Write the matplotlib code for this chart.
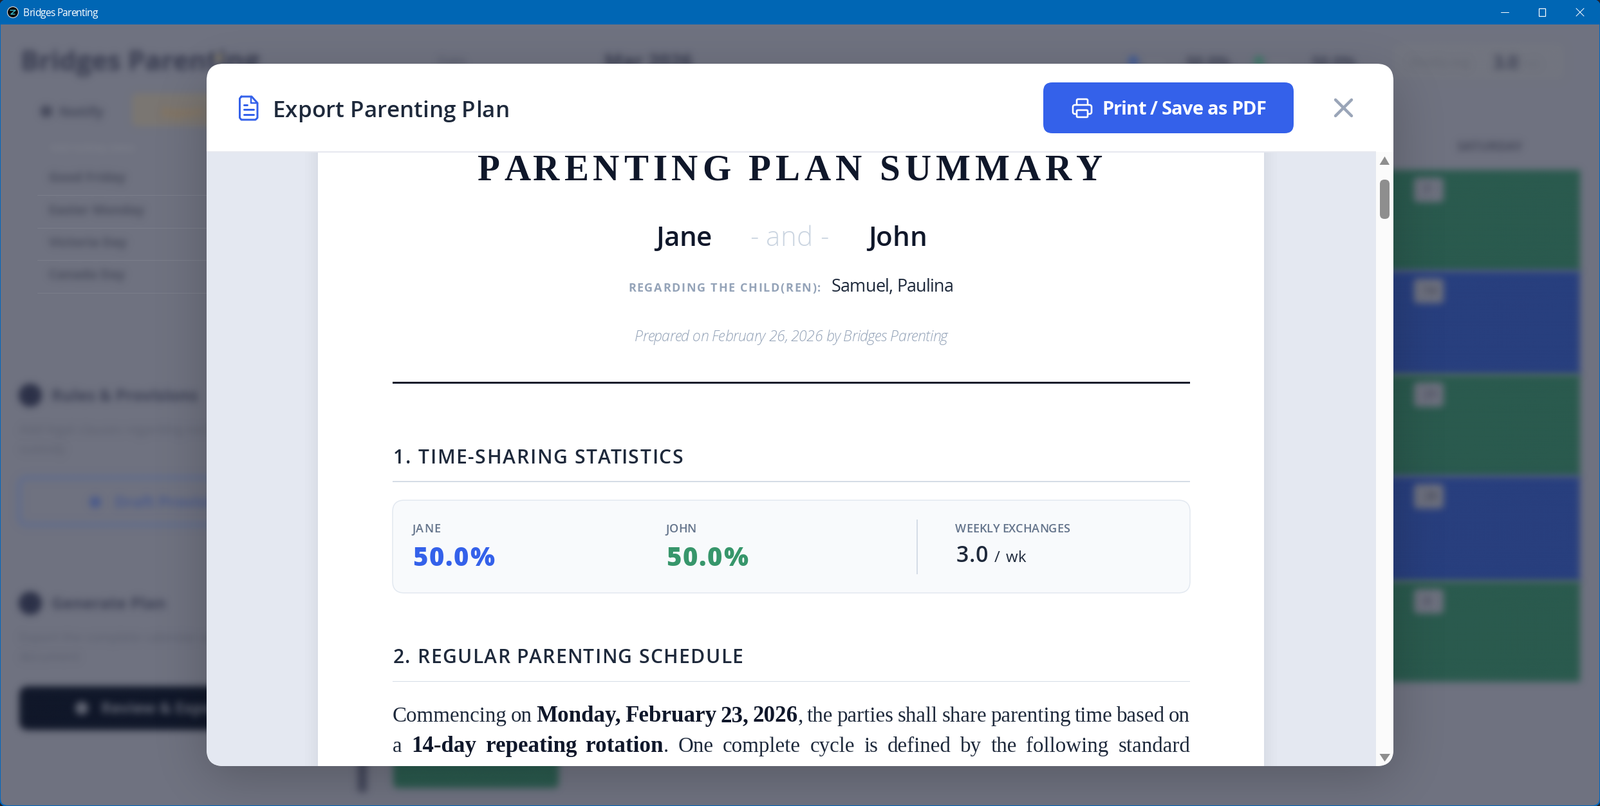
import numpy as np
import matplotlib
matplotlib.use("Agg")
import matplotlib.pyplot as plt
import matplotlib.text as mtext
from matplotlib.artist import allow_rasterization
from matplotlib.patches import Circle, FancyBboxPatch, Polygon, Rectangle
from matplotlib.transforms import IdentityTransform

# texts of the app behind the dialog (blurred)
APP_TITLE = "Bridges Parenting"
APP_TAB = "Notify"
APP_LIST_HEAD = "Add holiday dates"
HOLIDAYS = ["Good Friday", "Easter Monday", "Victoria Day", "Canada Day"]
RULES_HEAD = "Rules & Provisions"
RULES_DESC = ["Add legal clauses regarding exchanges and", "custody"]
RULES_BUTTON = "Draft Provisions"
PLAN_HEAD = "Generate Plan"
PLAN_DESC = ["Export the complete calendar and schedule", "document"]
PLAN_BUTTON = "Review & Export"
MONTH = "Mar 2026"
VIEW = "Date"
TOP_PCT = ["50.0%", "50.0%"]
DAY_NAME = "SATURDAY"
DAY_BADGES = ["7", "14", "21", "28", "4"]

# texts of the dialog
DIALOG_TITLE = "Export Parenting Plan"
PRINT_LABEL = "Print / Save as PDF"
DOC_TITLE = "PARENTING PLAN SUMMARY"
PARENTS = ["Jane", "John"]
CHILD_LABEL = "REGARDING THE CHILD(REN):"
CHILDREN = "Samuel, Paulina"
PREPARED = "Prepared on February 26, 2026 by Bridges Parenting"
SECTION_1 = "1. TIME-SHARING STATISTICS"
SECTION_2 = "2. REGULAR PARENTING SCHEDULE"
STAT_LABELS = ["JANE", "JOHN", "WEEKLY EXCHANGES"]
STAT_VALUES = ["50.0%", "50.0%", "3.0"]
LINE_1 = [("Commencing on", False), ("Monday, February 23, 2026", True),
          (", the parties shall share parenting time based on", False)]
LINE_2 = [("a", False), ("14-day repeating rotation", True),
          (". One complete cycle is defined by the following standard", False)]

BLUE = "#3461ea"
GREEN = "#37966b"
NAVY = "#0f172a"
SLATE = "#1e293b"
BACKDROP = "#6f7280"
CELL_GREEN = "#2a5a4e"
CELL_BLUE = "#283f7e"

SANS = "Open Sans"
SERIF = "Liberation Serif"

fig = plt.figure(figsize=(24.86, 12.52), dpi=100, facecolor="#20242c")
ax = fig.add_axes([0, 0, 1, 1])
ax.set_xlim(0, 2486)
ax.set_ylim(1252, 0)
ax.axis("off")


def fs(px):
    return px * 0.72


class SpacedText(mtext.Text):
    # one string drawn with letter spacing so it fills a given pixel width
    def __init__(self, *args, target=None, **kwargs):
        super().__init__(*args, **kwargs)
        self.target = target

    @allow_rasterization
    def draw(self, renderer):
        s = self.get_text()
        prop = self.get_fontproperties()
        x, y = self.get_transform().transform(self.get_position())
        full = renderer.get_text_width_height_descent(s, prop, False)[0]
        extra = (self.target - full) / (len(s) - 1)
        for i, ch in enumerate(s):
            w = renderer.get_text_width_height_descent(s[:i], prop, False)[0] if i else 0
            t = mtext.Text(x + w + i * extra, y, ch, fontproperties=prop, color=self.get_color(),
                           transform=IdentityTransform(), ha="left", va="baseline")
            t.set_figure(self.get_figure())
            t.draw(renderer)


def put(x, y, s, px, color, width=None, weight="normal", family=SANS, style="normal"):
    kw = dict(fontsize=fs(px), color=color, fontweight=weight, family=family, fontstyle=style,
              ha="left", va="baseline", transform=ax.transData)
    if width is None:
        return ax.text(x, y, s, **kw)
    t = SpacedText(x, y, s, target=width, **kw)
    ax.add_artist(t)
    return t


def box(x0, y0, x1, y1, r=0, **kw):
    kw.setdefault("linewidth", 0)
    if r == 0:
        p = Rectangle((x0, y0), x1 - x0, y1 - y0, **kw)
    else:
        p = FancyBboxPatch((x0 + r, y0 + r), x1 - x0 - 2 * r, y1 - y0 - 2 * r,
                           boxstyle=f"round,pad={r},rounding_size={r}", **kw)
    ax.add_patch(p)
    return p


def line(xs, ys, color, px, **kw):
    ax.plot(xs, ys, color=color, lw=fs(px), solid_capstyle="round", solid_joinstyle="round", **kw)


def blur(sigma):
    def f(img, dpi):
        pad = int(sigma * 4)
        img = np.pad(img, ((pad, pad), (pad, pad), (0, 0)))
        alpha = img[..., 3:]
        fy = np.fft.fftfreq(img.shape[0])[:, None]
        fx = np.fft.rfftfreq(img.shape[1])[None, :]
        gain = np.exp(-2 * (np.pi * sigma) ** 2 * (fx ** 2 + fy ** 2))
        out = np.empty_like(img)
        layers = np.concatenate([img[..., :3] * alpha, alpha], axis=2)
        for c in range(4):
            out[..., c] = np.fft.irfft2(np.fft.rfft2(layers[..., c]) * gain, s=img.shape[:2])
        a = np.clip(out[..., 3:], 1e-4, 1)
        out[..., :3] = np.clip(out[..., :3] / a, 0, 1)
        out[..., 3] = np.clip(out[..., 3], 0, 1)
        return out, -pad, -pad
    return f


soft = blur(5.5)


def bg_text(x, y, s, px, color, weight="normal"):
    put(x, y, s, px, color, weight=weight).set_agg_filter(soft)


def bg_box(*args, **kw):
    box(*args, **kw).set_agg_filter(soft)


# window
window = box(0, 0, 2486, 1252, r=12, facecolor=BACKDROP, edgecolor="#0067c0", linewidth=1.5)
bar = box(0, 0, 2486, 38, facecolor="#0066b4")
bar.set_clip_path(window)
ax.add_patch(Circle((20, 19), 8.5, facecolor="#060606", edgecolor="#d8d8d8", linewidth=0.8))
line([16, 24, 17, 23], [16, 16, 22, 22], "#38b6c8", 1.5)
put(36, 25, APP_TITLE, 15.5, "white", width=116)
line([2332, 2344], [18.5, 18.5], "white", 1)
ax.add_patch(Rectangle((2391, 13), 10, 12, fill=False, edgecolor="white", linewidth=fs(1.2)))
line([2449, 2461], [13, 25], "white", 1)
line([2449, 2461], [25, 13], "white", 1)

# app behind the dialog
bg_text(32, 109, APP_TITLE, 42, "#363a4e", weight="bold")
ax.add_patch(Circle((340, 90), 5, facecolor="#8d8468", linewidth=0)).set_agg_filter(soft)
bg_text(680, 102, VIEW, 20, "#4e5263")
bg_text(939, 106, MONTH, 30, "#363a4e", weight="bold")
bg_box(64, 165, 80, 181, r=3, facecolor="#424658")
bg_text(92, 181, APP_TAB, 22, "#424658", weight="bold")
bg_box(205, 145, 340, 196, r=8, facecolor="#7c7873")
bg_text(250, 181, "Export", 20, "#8b7458", weight="bold")
bg_text(78, 235, APP_LIST_HEAD, 16, "#82858f")
for i, name in enumerate(HOLIDAYS):
    bg_text(76, 282 + i * 50.5, name, 20, "#454959", weight="bold")
    line([58, 330], [303 + i * 50.5] * 2, "#7a7d89", 1)

for cy, head, desc in ((614, RULES_HEAD, RULES_DESC), (937, PLAN_HEAD, PLAN_DESC)):
    ax.add_patch(Circle((47, cy), 18, facecolor="#2c3148", linewidth=0)).set_agg_filter(soft)
    bg_text(80, cy + 9, head, 25, "#3c4054", weight="bold")
    bg_text(30, cy + 60, desc[0], 20, "#5b5f6e")
    bg_text(30, cy + 90, desc[1], 20, "#5b5f6e")
bg_box(30, 742, 360, 815, r=12, facecolor="none", edgecolor="#5f6c8f", linewidth=fs(6))
ax.add_patch(Circle((148, 780), 9, facecolor="#4a5a8c", linewidth=0)).set_agg_filter(soft)
bg_text(178, 788, RULES_BUTTON, 24, "#4a5a8c", weight="bold")
bg_box(30, 1066, 360, 1134, r=14, facecolor="#101729")
ax.add_patch(Circle((127, 1100), 10, facecolor="#666a78", linewidth=0)).set_agg_filter(soft)
bg_text(157, 1108, PLAN_BUTTON, 24, "#666a78", weight="bold")

for x, s, dot in ((1761, TOP_PCT[0], "#3f5a98"), (1956, TOP_PCT[1], "#3d7a68")):
    ax.add_patch(Circle((x, 95), 8, facecolor=dot, linewidth=0)).set_agg_filter(soft)
    bg_text(x + 17, 102, "Jane", 16, "#7d818c")
    bg_text(x + 82, 105, s, 24, "#3c4054", weight="bold")
bg_box(2165, 68, 2430, 122, r=8, facecolor="#73767f")
bg_text(2190, 103, "Weekly avg", 18, "#62656f")
bg_text(2320, 107, "3.0", 28, "#3c4054", weight="bold")
bg_text(2358, 105, "/ wk", 18, "#676a76")
bg_text(2263, 234, DAY_NAME, 20, "#444758", weight="bold")

# calendar cells, the dialog covers everything left of the last column
cell_edges = [264, 421, 582, 740, 903, 1059]
for i, label in enumerate(DAY_BADGES):
    colour = CELL_GREEN if i % 2 == 0 else CELL_BLUE
    bg_box(2100, cell_edges[i], 2455, cell_edges[i + 1], facecolor=colour)
    bg_box(2197, cell_edges[i] + 12, 2243, cell_edges[i] + 50, r=6, facecolor="#6f7280")
    bg_text(2212, cell_edges[i] + 37, label, 19, "#4c4f60", weight="bold")
bg_box(611, 1150, 868, 1224, r=8, facecolor="#2a5a4e")
bg_box(556, 1150, 570, 1230, facecolor="#42465a")

# dialog shadow
box(321, 125, 2165, 1205, r=30, facecolor="black", alpha=0.22).set_agg_filter(blur(38))

# dialog
modal = box(321, 99, 2165, 1190, r=26, facecolor="white")
box(321, 236, 2138, 1190, facecolor="#e4e8f1").set_clip_path(modal)
for pad in (3, 7, 11, 15, 20):
    box(494 - pad, 236, 1964 + pad, 1190, facecolor="black", alpha=0.008).set_clip_path(modal)
box(494, 236, 1964, 1190, facecolor="white").set_clip_path(modal)
box(321, 234.5, 2138, 236.5, facecolor="#e6e8ef")
box(2138, 236, 2165, 1190, facecolor="#fbfbfb").set_clip_path(modal)
ax.add_patch(Polygon([[2143.5, 256], [2159, 256], [2151.5, 243]], facecolor="#8e8e8e", linewidth=0))
ax.add_patch(Polygon([[2143.5, 1171], [2160, 1171], [2151.5, 1183]], facecolor="#8e8e8e", linewidth=0))
box(2144, 279, 2159, 340, r=7, facecolor="#8e8e8e")

# dialog header
line([375, 391, 400, 400, 397, 375, 372.5, 372.5, 375], [150, 150, 160, 183, 186, 186, 183, 153, 150], BLUE, 3)
line([390, 390, 400], [150, 160, 160], BLUE, 2.5)
line([379, 384], [163, 163], BLUE, 3)
line([379, 394], [170, 170], BLUE, 3)
line([379, 394], [178, 178], BLUE, 3)
put(423.5, 182, DIALOG_TITLE, 35, SLATE, width=367.5, weight="semibold")

box(1621, 128, 2010, 207, r=14, facecolor=BLUE)
box(1673, 154, 1690, 166, r=2, facecolor="none", edgecolor="white", linewidth=fs(2.6))
box(1667, 163, 1696, 177, r=3, facecolor=BLUE, edgecolor="white", linewidth=fs(2.6))
box(1673, 171, 1690, 182, r=1.5, facecolor=BLUE, edgecolor="white", linewidth=fs(2.6))
put(1712, 178, PRINT_LABEL, 29, "white", width=255, weight="bold")
line([2075, 2100], [155, 180], "#9aa5b8", 4.5)
line([2075, 2100], [180, 155], "#9aa5b8", 4.5)

# document head
put(742, 280, DOC_TITLE, 57, NAVY, width=969, weight="bold", family=SERIF)
put(1019, 382, PARENTS[0], 42, NAVY, width=87, weight="semibold")
put(1165, 382, "- and -", 42, "#cbd5e1", width=123, weight="light")
put(1349, 382, PARENTS[1], 42, NAVY, width=91, weight="semibold")
put(976, 453, CHILD_LABEL, 18, "#94a3b8", width=299, weight="bold")
put(1292, 453, CHILDREN, 27, SLATE, width=190)
put(986, 530, PREPARED, 23, "#94a3b8", width=487, weight="light", style="italic")
box(610, 592.5, 1849, 595.5, facecolor=NAVY)

# section 1
put(611, 720, SECTION_1, 30, SLATE, width=450, weight="semibold")
box(610, 747, 1849, 748.5, facecolor="#d5dce6")
box(610, 777, 1849, 921, r=18, facecolor="#f8fafc", edgecolor="#e2e8f0", linewidth=fs(1.5))
put(640, 827, STAT_LABELS[0], 18, "#64748b", width=44, weight="semibold")
put(1034, 827, STAT_LABELS[1], 18, "#64748b", width=48, weight="semibold")
put(1484, 827, STAT_LABELS[2], 18, "#64748b", width=178, weight="semibold")
put(641, 879, STAT_VALUES[0], 40, BLUE, width=127, weight="extra bold")
put(1035, 879, STAT_VALUES[1], 40, GREEN, width=127, weight="extra bold")
box(1424.5, 807, 1426, 892, facecolor="#d5dce6")
put(1485.5, 873, STAT_VALUES[2], 34, SLATE, width=50, weight="semibold")
put(1545, 873, "/ wk", 24, SLATE, width=50)

# section 2
put(611, 1030, SECTION_2, 30, SLATE, width=543, weight="semibold")
box(610, 1057.5, 1849, 1059, facecolor="#d5dce6")


def justified(runs, y, x0, x1, px, bold_px):
    # spread the words of one body line from x0 to x1
    renderer = fig.canvas.get_renderer()
    parts = []
    for text, bold in runs:
        for word in text.split(" "):
            if bold:
                t = put(0, y, word, bold_px, NAVY, weight="bold", family=SERIF)
            else:
                t = put(0, y, word, px, SLATE, family=SERIF)
            parts.append((t, t.get_window_extent(renderer).width, word[0] not in ",."))
    gaps = sum(1 for p in parts[1:] if p[2])
    gap = (x1 - x0 - sum(p[1] for p in parts)) / gaps
    x = x0
    for i, (t, w, spaced) in enumerate(parts):
        if i and spaced:
            x += gap
        t.set_x(x)
        x += w


justified(LINE_1, 1121, 610, 1849, 33, 35)
justified(LINE_2, 1168, 610, 1849, 33, 35)

# paint in the order things were added
for i, artist in enumerate(ax.get_children()):
    artist.set_zorder(i)

fig.savefig("out.png", dpi=100, facecolor=fig.get_facecolor())
